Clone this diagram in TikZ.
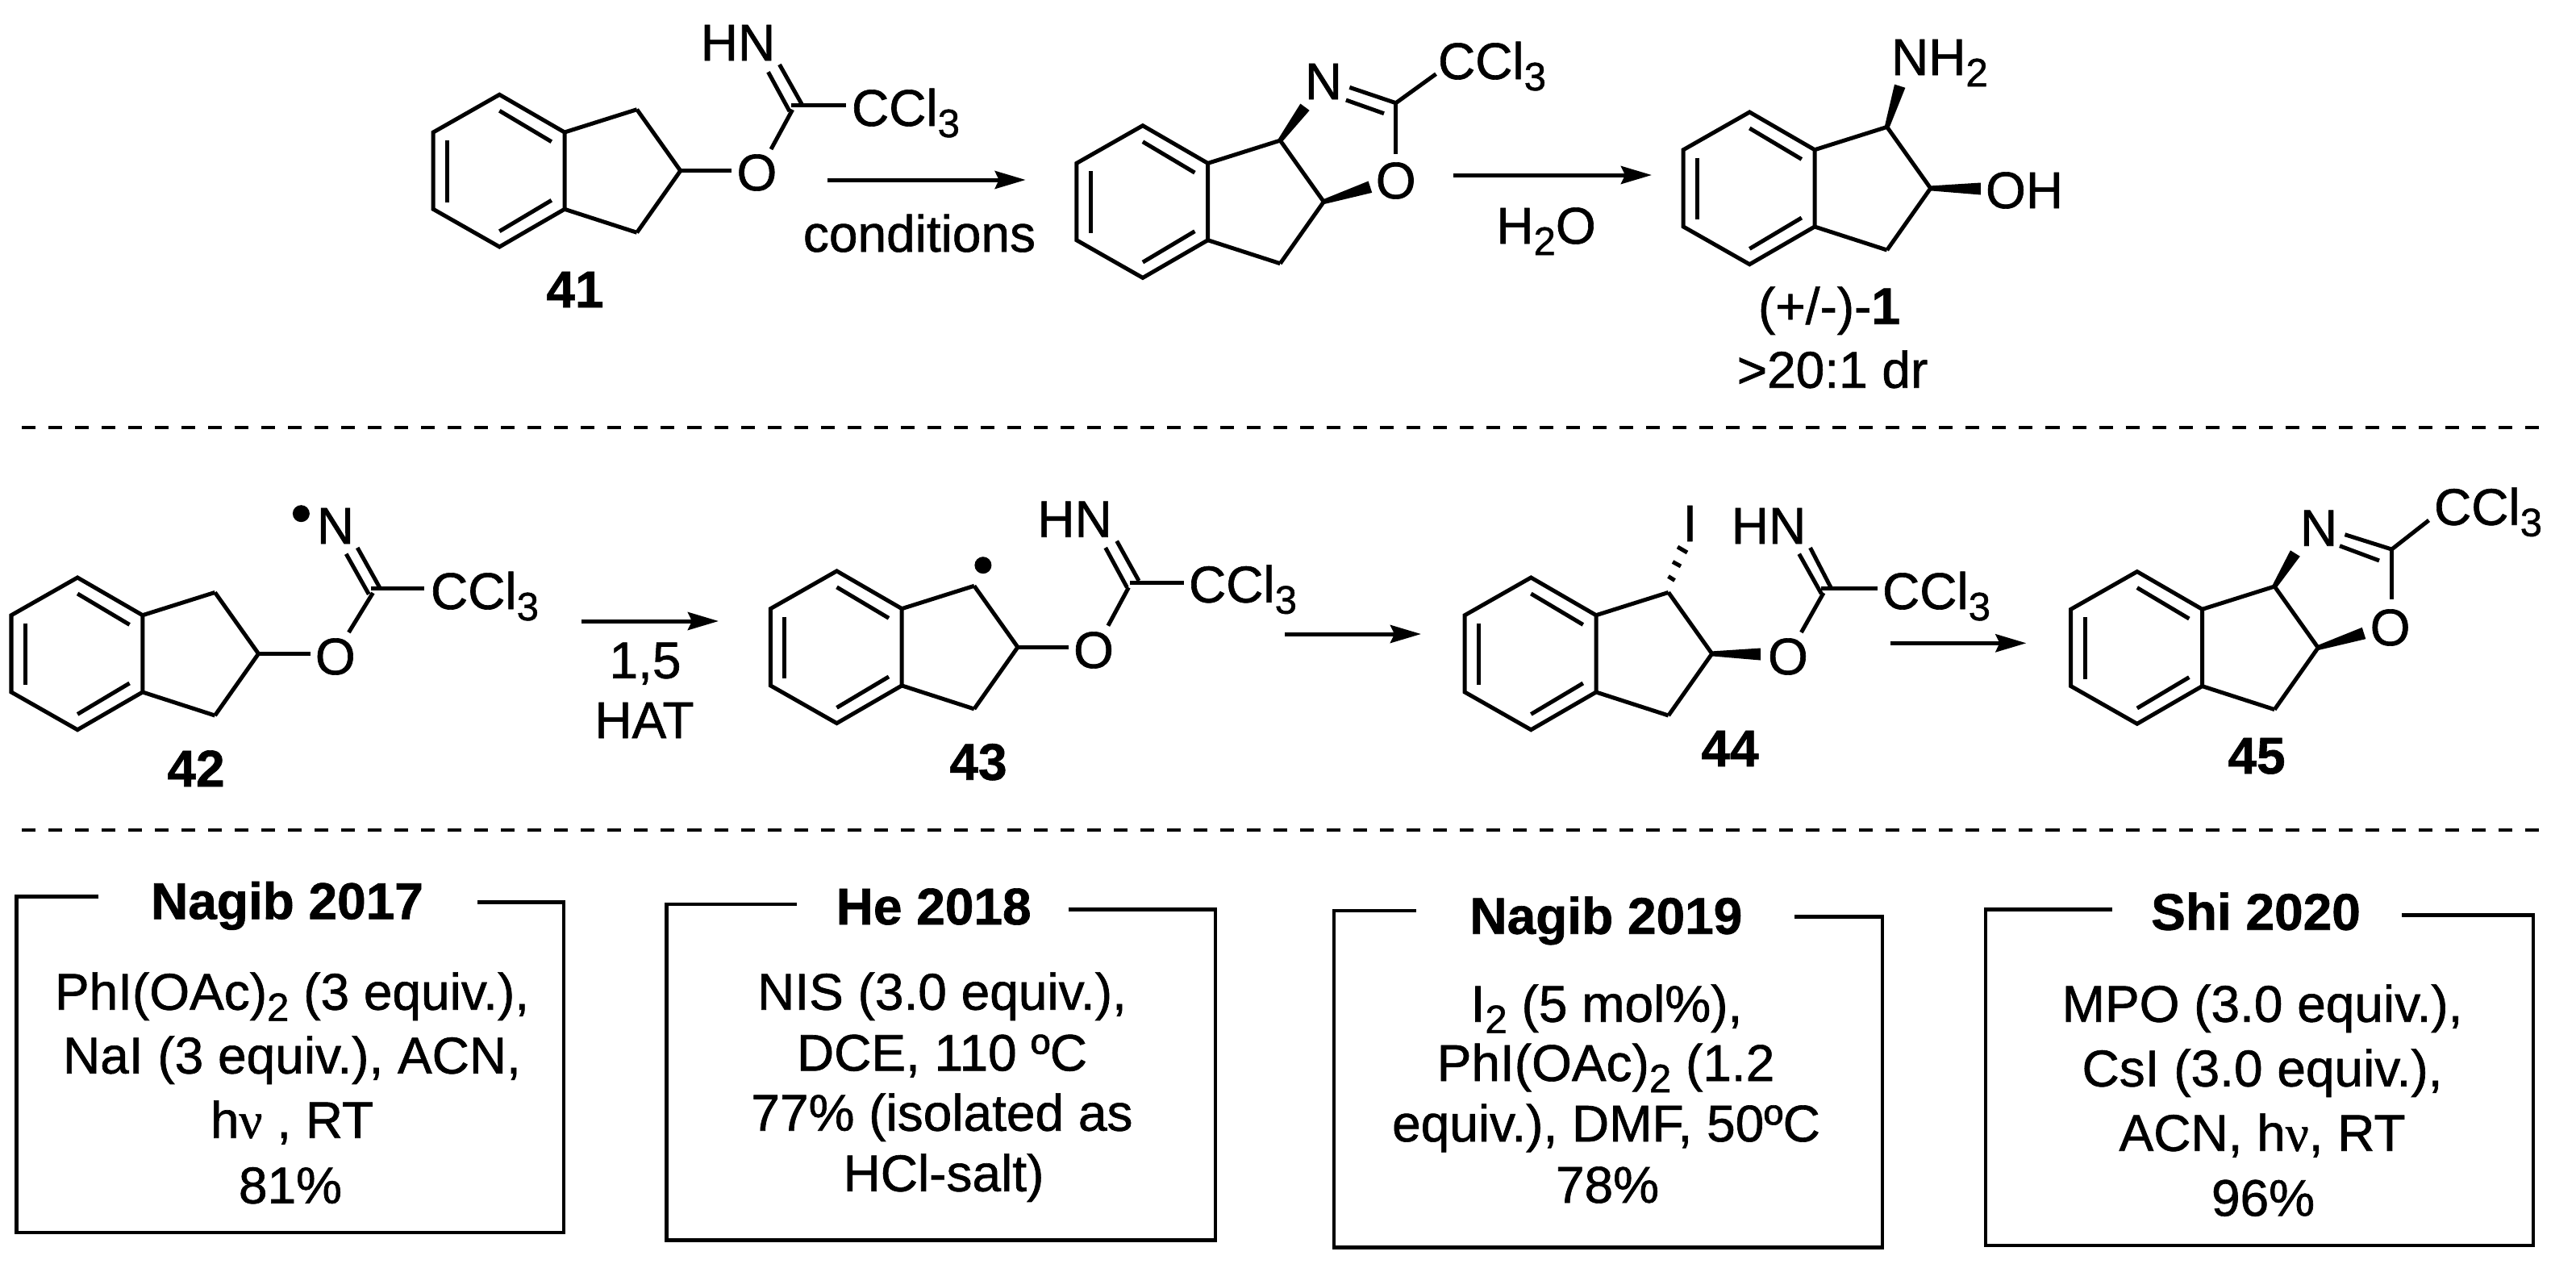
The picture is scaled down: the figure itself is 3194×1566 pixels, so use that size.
\documentclass[tikz,border=0pt]{standalone}
\usepackage{fontspec}
\setmainfont{Liberation Sans}[FakeBold=1,BoldFont={Liberation Sans Bold},BoldFeatures={FakeBold=1}]
\newfontfamily\serifnu{Liberation Serif}[FakeBold=1]
\usetikzlibrary{arrows.meta,calc}
\newcommand\subs[1]{\raisebox{-0.14cm}{\fontsize{14pt}{14pt}\selectfont #1}}
\newcommand\nuu{{\serifnu ν}}
\newcommand\CCl{CCl\subs{3}}
% indane skeleton: template coordinates shifted by (#2,#3), coordinates prefixed by #1
\newcommand\indane[3]{%
  \begin{scope}[shift={(#2,#3)}]
    \coordinate (#1r1) at (619.3,117.3);
    \coordinate (#1r2) at (700,164);
    \coordinate (#1r3) at (700,259.3);
    \coordinate (#1r4) at (619.3,306);
    \coordinate (#1r5) at (537.2,259.3);
    \coordinate (#1r6) at (537.2,164);
    \coordinate (#1c1) at (789.7,135.7);
    \coordinate (#1c2) at (843.7,211.7);
    \coordinate (#1c3) at (789.7,288.3);
    \coordinate (#1i1) at (619.3,137.3);
    \coordinate (#1i2) at (683.8,175.7);
    \coordinate (#1i3) at (619.3,286.7);
    \coordinate (#1i4) at (683.8,248.3);
    \coordinate (#1i5) at (554.7,174);
    \coordinate (#1i6) at (554.7,250.7);
  \end{scope}
  \draw[bond] (#1r1) -- (#1r2) -- (#1r3) -- (#1r4) -- (#1r5) -- (#1r6) -- cycle;
  \draw[bond] (#1r2) -- (#1c1);
  \draw[bond] (#1r3) -- (#1c3);
  \draw[bond] (#1i1) -- (#1i2);
  \draw[bond] (#1i3) -- (#1i4);
  \draw[bond] (#1i5) -- (#1i6);
}
% blunt wedge from narrow atom #1 to wide end #2, wide half width #3
\newcommand\wedgebond[3]{\fill ($(#1)!0.03cm!90:(#2)$) -- ($(#2)!#3!-90:(#1)$) -- ($(#2)!#3!90:(#1)$) -- ($(#1)!0.03cm!-90:(#2)$) -- cycle;}
% bond between two fresh named coordinates
\newcommand\bondc[4]{\coordinate (#1) at (#2); \coordinate (#3) at (#4); \draw[bond] (#1) -- (#3);}
% condition box: name, left, right, top-left y, top-right y, bottom y, end of left segment, start of right segment
\newcommand\condbox[8]{%
  \coordinate (#1a) at (#7,#4);
  \coordinate (#1b) at (#2,#4);
  \coordinate (#1c) at (#2,#6);
  \coordinate (#1d) at (#3,#6);
  \coordinate (#1e) at (#3,#5);
  \coordinate (#1f) at (#8,#5);
  \draw[boxline] (#1a) -- (#1b) -- (#1c) -- (#1d) -- (#1e) -- (#1f);
}
\tikzset{
  bond/.style={line width=0.05cm,line join=miter},
  boxline/.style={line width=0.045cm,line join=miter},
  rxn/.style={line width=0.05cm,-{Stealth[length=0.38cm,width=0.22cm,inset=0.05cm]}},
  sep/.style={line width=0.04cm,dash pattern=on 0.17cm off 0.16cm},
  lbl/.style={inner sep=0pt,outer sep=0pt,anchor=base,font=\fontsize{18.2pt}{22pt}\selectfont},
  lblw/.style={lbl,anchor=base west},
  blbl/.style={lbl,font=\fontsize{18.2pt}{22pt}\selectfont\bfseries},
  radical/.style={circle,fill=black,inner sep=0pt,minimum size=0.21cm},
}
\begin{document}
\begin{tikzpicture}[x=0.01cm,y=-0.01cm]
\useasboundingbox (0,0) rectangle (3194,1566);
\fill[white] (0,0) rectangle (3194,1566);

%% ---------- 41
\indane{A}{0}{0}
\draw[bond] (Ac1) -- (Ac2) -- (Ac3);
\node[lbl] (A-O) at (938.4,236) {O};
\node[lbl] (A-HN) at (915,75) {HN};
\node[lblw] (A-CCl) at (1056,156) {\CCl};
\node[blbl] (A-no) at (713,381) {41};
\bondc{Aa}{906.9,211.7}{Ab}{843.7,211.7}
\bondc{Ad1}{982.6,136}{Ad}{956,185}
\bondc{Ae}{981,130.7}{Af}{1048.6,130.7}
\bondc{Ag}{994.6,130}{Ah}{966.5,80}
\bondc{Ai}{979,138}{Aj}{952.5,89.3}

%% arrow 1
\coordinate (R1s) at (1026,223); \coordinate (R1e) at (1271.7,223);
\draw[rxn] (R1s) -- (R1e);
\node[lbl] (R1t) at (1140,312) {conditions};

%% ---------- oxazoline, top
\indane{B}{797.6}{38.4}
\node[lbl] (B-N) at (1641,123) {N};
\node[lbl] (B-O) at (1730.7,246) {O};
\node[lblw] (B-CCl) at (1783,98) {\CCl};
\coordinate (Bw1) at (1618,132.7);
\coordinate (Bw2) at (1698.9,231.7);
\wedgebond{Bc1}{Bw1}{0.07cm}
\wedgebond{Bc2}{Bw2}{0.075cm}
\draw[bond] (Bc1) -- (Bc2) -- (Bc3);
\bondc{Ba}{1730.7,125.7}{Bb}{1730.7,190.7}
\bondc{Bd1}{1730.7,127.7}{Bd}{1673.3,108.3}
\bondc{Be}{1716,140.7}{Bf}{1668.9,124}
\bondc{Bg}{1730.7,127.7}{Bh}{1780.5,91.7}

%% arrow 2
\coordinate (R2s) at (1802,217); \coordinate (R2e) at (2048,217);
\draw[rxn] (R2s) -- (R2e);
\node[lbl] (R2t) at (1917,302) {H\subs{2}O};

%% ---------- 1
\indane{C}{1550}{21.7}
\node[lblw] (C-N) at (2345,93) {NH\subs{2}};
\node[lblw] (C-O) at (2462,258) {OH};
\coordinate (Cw1) at (2355.7,106.7);
\coordinate (Cw2) at (2455.9,234);
\wedgebond{Cc1}{Cw1}{0.07cm}
\wedgebond{Cc2}{Cw2}{0.075cm}
\draw[bond] (Cc1) -- (Cc2) -- (Cc3);
\node[lbl] (C-no) at (2268,401.7) {(+/-)-{\bfseries 1}};
\node[lbl] (C-dr) at (2272,480.7) {>20:1 dr};

%% ---------- separators
\coordinate (S1a) at (27,529.7); \coordinate (S1b) at (3148,529.7);
\coordinate (S2a) at (27,1029.3); \coordinate (S2b) at (3148,1029.3);
\draw[sep] (S1a) -- (S1b);
\draw[sep] (S2a) -- (S2b);

%% ---------- 42
\indane{D}{-523.2}{598.7}
\draw[bond] (Dc1) -- (Dc2) -- (Dc3);
\node[lbl] (D-O) at (415.8,836) {O};
\node[lbl] (D-N) at (416,674) {N};
\node[radical] (D-dot) at (373.4,636.7) {};
\node[lblw] (D-CCl) at (534,755) {\CCl};
\node[blbl] (D-no) at (243,975) {42};
\bondc{Da}{384.6,810.7}{Db}{320.5,810.7}
\bondc{Dd1}{462.4,735}{Dd}{432.4,784}
\bondc{De}{460,729.3}{Df}{526.1,729.3}
\bondc{Dg}{470.7,728.3}{Dh}{443.2,679}
\bondc{Di}{457.3,736.7}{Dj}{429.2,686.7}

%% arrow 3
\coordinate (R3s) at (720.7,770); \coordinate (R3e) at (891,770);
\draw[rxn] (R3s) -- (R3e);
\node[lbl] (R3a) at (800,840.7) {1,5};
\node[lbl] (R3b) at (799,915) {HAT};

%% ---------- 43
\indane{E}{418.2}{590.6}
\draw[bond] (Ec1) -- (Ec2) -- (Ec3);
\node[lbl] (E-O) at (1356,828) {O};
\node[lbl] (E-HN) at (1332.6,665.7) {HN};
\node[lblw] (E-CCl) at (1474,746.7) {\CCl};
\node[radical] (E-dot) at (1218.9,700.7) {};
\node[blbl] (E-no) at (1213,966.7) {43};
\bondc{Ea}{1325.4,802.7}{Eb}{1262,802.7}
\bondc{Ed1}{1399.4,728.3}{Ed}{1373.9,775.7}
\bondc{Ee}{1401,722.3}{Ef}{1467.6,722.3}
\bondc{Eg}{1412,720}{Eh}{1384.7,670.7}
\bondc{Ei}{1397.4,728.3}{Ej}{1370.7,679}

%% arrow 4
\coordinate (R4s) at (1593,786); \coordinate (R4e) at (1762,786);
\draw[rxn] (R4s) -- (R4e);

%% ---------- 44
\indane{F}{1279}{598.7}
\node[lbl] (F-O) at (2216.9,836) {O};
\node[lbl] (F-HN) at (2193,674) {HN};
\node[lbl] (F-I) at (2095.3,671) {I};
\node[lblw] (F-CCl) at (2334,755) {\CCl};
\node[blbl] (F-no) at (2145,950) {44};
\coordinate (Fw) at (2182.8,811);
\wedgebond{Fc2}{Fw}{0.075cm}
\draw[bond] (Fc1) -- (Fc2) -- (Fc3);
\coordinate (Fh1a) at (2068.5,714.5); \coordinate (Fh1b) at (2076.5,719.5);
\coordinate (Fh2a) at (2074,696.5); \coordinate (Fh2b) at (2084,702);
\coordinate (Fh3a) at (2080,678); \coordinate (Fh3b) at (2092,685);
\draw[line width=0.05cm] (Fh1a) -- (Fh1b);
\draw[line width=0.05cm] (Fh2a) -- (Fh2b);
\draw[line width=0.05cm] (Fh3a) -- (Fh3b);
\bondc{Fa}{2261,735}{Fb}{2233.4,784}
\bondc{Fe}{2258,729.3}{Ff}{2328.3,729.3}
\bondc{Fg}{2270,728.3}{Fh}{2244.5,679}
\bondc{Fi}{2258.3,736}{Fj}{2230.7,686.7}

%% arrow 5
\coordinate (R5s) at (2344,797.3); \coordinate (R5e) at (2512.4,797.3);
\draw[rxn] (R5s) -- (R5e);

%% ---------- 45
\indane{G}{2030.5}{591.3}
\node[lbl] (G-N) at (2875,676.7) {N};
\node[lbl] (G-O) at (2963.6,800) {O};
\node[lblw] (G-CCl) at (3018,650.7) {\CCl};
\node[blbl] (G-no) at (2798,959) {45};
\coordinate (Gw1) at (2845.8,686);
\coordinate (Gw2) at (2931,785);
\wedgebond{Gc1}{Gw1}{0.07cm}
\wedgebond{Gc2}{Gw2}{0.075cm}
\draw[bond] (Gc1) -- (Gc2) -- (Gc3);
\bondc{Ga}{2965.5,679}{Gb}{2965.5,743.3}
\bondc{Gd1}{2965.5,681}{Gd}{2907.4,662.7}
\bondc{Ge}{2950,695}{Gf}{2901,676.7}
\bondc{Gg}{2965.5,681}{Gh}{3011.5,645}

%% ---------- condition boxes
\condbox{P}{20.4}{699}{1111.7}{1118.3}{1528}{122.4}{592}
\node[blbl] (P0) at (356,1139.3) {Nagib 2017};
\node[lbl] (P1) at (362,1251.7) {PhI(OAc)\subs{2} (3 equiv.),};
\node[lbl] (P2) at (362,1330.7) {NaI (3 equiv.), ACN,};
\node[lbl] (P3) at (362,1410.7) {h\nuu{} , RT};
\node[lbl] (P4) at (360,1491.7) {81\%};

\condbox{Q}{826.5}{1507}{1121}{1127.7}{1537.3}{987.8}{1324.5}
\node[blbl] (Q0) at (1157.7,1146) {He 2018};
\node[lbl] (Q1) at (1168,1251.7) {NIS (3.0 equiv.),};
\node[lbl] (Q2) at (1168,1327.3) {DCE, 110 ºC};
\node[lbl] (Q3) at (1168,1401.7) {77\% (isolated as};
\node[lbl] (Q4) at (1170,1476.7) {HCl-salt)};

\condbox{T}{1653.9}{2334}{1129}{1136.3}{1546.7}{1755.5}{2225}
\node[blbl] (T0) at (1991.4,1157.7) {Nagib 2019};
\node[lbl] (T1) at (1992,1266.7) {I\subs{2} (5 mol\%),};
\node[lbl] (T2) at (1991,1340) {PhI(OAc)\subs{2} (1.2};
\node[lbl] (T3) at (1991.5,1415) {equiv.), DMF, 50ºC};
\node[lbl] (T4) at (1993,1491) {78\%};

\condbox{U}{2462}{3141}{1127.3}{1134.3}{1544}{2618.6}{2977.5}
\node[blbl] (U0) at (2797,1152.7) {Shi 2020};
\node[lbl] (U1) at (2805,1266.7) {MPO (3.0 equiv.),};
\node[lbl] (U2) at (2805,1346.7) {CsI (3.0 equiv.),};
\node[lbl] (U3) at (2805,1426.7) {ACN, h\nuu, RT};
\node[lbl] (U4) at (2806,1507.3) {96\%};
\end{tikzpicture}
\end{document}
